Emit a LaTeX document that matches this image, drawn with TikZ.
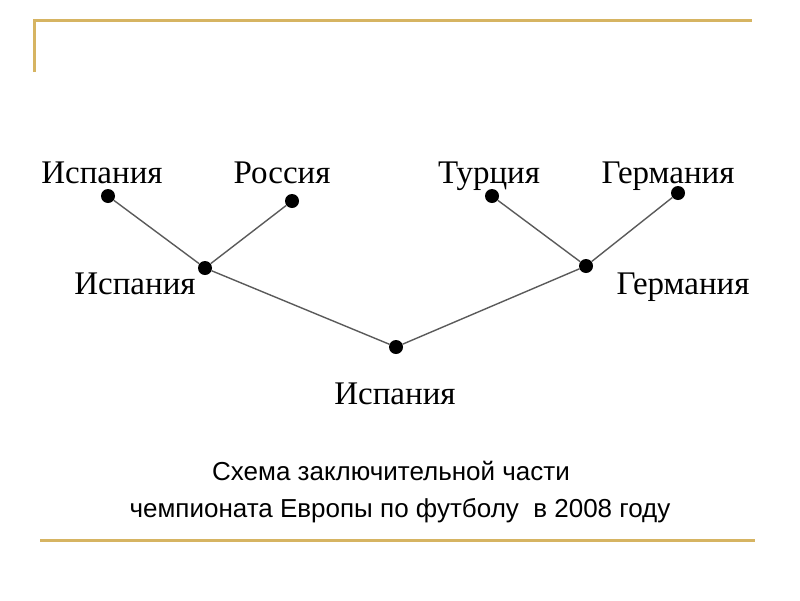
\documentclass[tikz,border=0pt]{standalone}
\usepackage{fontspec}
\setmainfont{Liberation Serif}
\newfontfamily\capfont{Liberation Sans}
\usepackage{tikz}
\usetikzlibrary{positioning}
\definecolor{gold}{RGB}{214,180,98}
\definecolor{edgegray}{RGB}{90,90,90}

\begin{document}
\begin{tikzpicture}[x=1pt,y=-1pt,
    team/.style={circle, fill=black, inner sep=0pt, minimum size=14pt},
    teamname/.style={anchor=base, inner sep=0pt, font=\fontsize{33}{33}\selectfont},
    caption/.style={anchor=base, inner sep=0pt, font=\capfont\fontsize{26}{26}\selectfont},
    game/.style={edgegray, line width=1.4pt}]
            \useasboundingbox (0,0) rectangle (800,600);
            % frame
            \draw[gold, line width=3pt] (34,72) -- (34,20) -- (752,20);
            \draw[gold, line width=3pt] (40,540) -- (755,540);
            % bracket points
            \node[team] (esp1) at (108,196) {};
            \node[team] (rus) at (292,201) {};
            \node[team] (tur) at (492,196) {};
            \node[team] (ger1) at (678,193) {};
            \node[team] (esp2) at (205,268) {};
            \node[team] (ger2) at (586,266) {};
            \node[team] (esp3) at (396,347) {};
            \draw[game] (esp1) -- (esp2) -- (rus);
            \draw[game] (tur) -- (ger2) -- (ger1);
            \draw[game] (esp2) -- (esp3) -- (ger2);
            % names
            \node[teamname] (nEsp1) at (102,183) {Испания};
            \node[teamname] (nRus) at (282,183) {Россия};
            \node[teamname] (nTur) at (489,183) {Турция};
            \node[teamname] (nGer1) at (668,183) {Германия};
            \node[teamname] (nEsp2) at (135,294) {Испания};
            \node[teamname] (nGer2) at (683,294) {Германия};
            \node[teamname] (nEsp3) at (395,404) {Испания};
            % caption
            \node[caption] (cap1) at (391,480) {Схема заключительной части};
            \node[caption] (cap2) at (400,517) {чемпионата Европы по футболу~ в 2008 году};
        \end{tikzpicture}
\end{document}
